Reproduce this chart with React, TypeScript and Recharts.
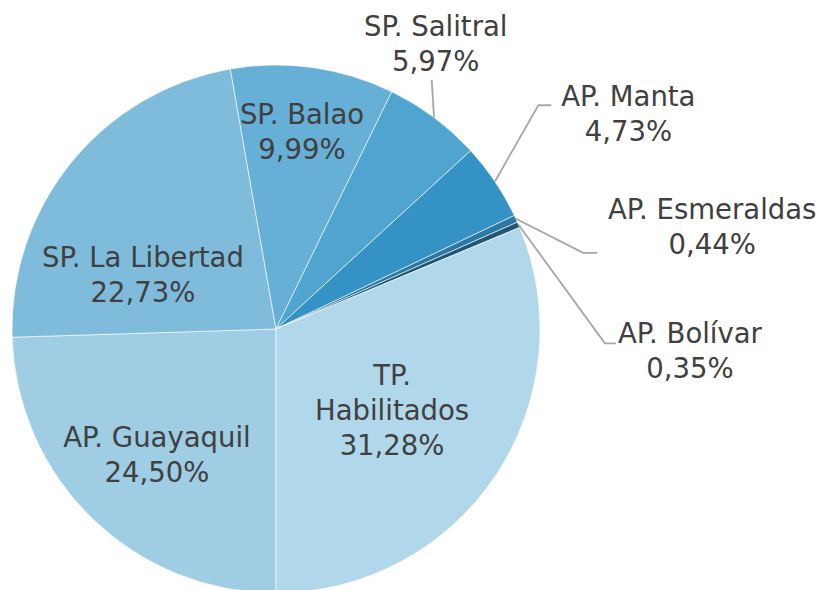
import React from 'react'
import { PieChart, Pie, Cell } from 'recharts'

// participación por terminal (%)
const categories = [
    'AP. Guayaquil',
    'SP. La Libertad',
    'SP. Balao',
    'SP. Salitral',
    'AP. Manta',
    'AP. Esmeraldas',
    'AP. Bolívar',
    'TP. Habilitados',
]
const shares = [24.5, 22.73, 9.99, 5.97, 4.73, 0.44, 0.35, 31.28]
const colors = ['#9fcde4', '#7fbcdc', '#66afd6', '#4fa4d0', '#3592c4', '#2a78a4', '#1e5778', '#b1d7ea']

const data = categories.map((name, i) => ({ name, value: shares[i] }))

// label placement: rf = radius factor, da = angle shift, line = leader end relative to text, h = elbow length
type Layout = { rf: number; da: number; split?: boolean; line?: [number, number]; h?: number }
const layout: Record<string, Layout> = {
    'AP. Guayaquil': { rf: 0.656, da: 0.7 },
    'SP. La Libertad': { rf: 0.544, da: 17 },
    'SP. Balao': { rf: 0.753, da: 0.5 },
    'SP. Salitral': { rf: 1.238, da: 7.5, line: [-4, 36], h: 0 },
    'AP. Manta': { rf: 1.565, da: -2.5, line: [-77, -8], h: 13 },
    'AP. Esmeraldas': { rf: 1.697, da: -11.5, line: [-115, 26], h: 14 },
    'AP. Bolívar': { rf: 1.57, da: -26.2, line: [-74, -7], h: 11 },
    'TP. Habilitados': { rf: 0.536, da: -1.2, split: true },
}

const RAD = Math.PI / 180
const font = "'Century Gothic', 'DejaVu Sans', sans-serif"

const renderLabel = (props: any) => {
    const { cx, cy, midAngle, outerRadius, name, value } = props
    const cfg = layout[name]
    const a = (midAngle + cfg.da) * RAD
    const tx = cx + outerRadius * cfg.rf * Math.cos(a)
    const ty = cy - outerRadius * cfg.rf * Math.sin(a)
    const pct = value.toFixed(2).replace('.', ',') + '%'
    const lines = cfg.split ? [...name.split(' '), pct] : [name, pct]
    const lh = 35

    let leader = null
    if (cfg.line) {
        const sx = cx + outerRadius * Math.cos(midAngle * RAD)
        const sy = cy - outerRadius * Math.sin(midAngle * RAD)
        const ex = tx + cfg.line[0]
        const ey = ty + cfg.line[1]
        const bx = ex - (cfg.h ?? 0)
        leader = (
            <polyline
                points={`${sx},${sy} ${bx},${ey} ${ex},${ey}`}
                fill="none"
                stroke="#a6a6a6"
                strokeWidth={1.8}
            />
        )
    }

    return (
        <g key={name}>
            {leader}
            <text
                x={tx}
                y={ty}
                textAnchor="middle"
                fill="#404040"
                fontSize={27.5}
                fontFamily={font}
            >
                {lines.map((t, i) => (
                    <tspan
                        key={i}
                        x={tx}
                        y={ty + (i - (lines.length - 1) / 2) * lh}
                        dominantBaseline="central"
                    >
                        {t}
                    </tspan>
                ))}
            </text>
        </g>
    )
}

export default function App() {
    return (
        <div style={{ position: 'absolute', left: 0, top: 0, background: '#fff' }}>
            <PieChart width={827} height={590} margin={{ top: 0, right: 0, bottom: 0, left: 0 }}>
                <Pie
                    data={data}
                    dataKey="value"
                    nameKey="name"
                    cx={276}
                    cy={329}
                    outerRadius={264}
                    startAngle={-90}
                    endAngle={-450}
                    stroke="rgba(255,255,255,0.6)"
                    strokeWidth={1}
                    label={renderLabel}
                    labelLine={false}
                    isAnimationActive={false}
                >
                    {data.map((d, i) => (
                        <Cell key={d.name} fill={colors[i]} />
                    ))}
                </Pie>
            </PieChart>
        </div>
    )
}
